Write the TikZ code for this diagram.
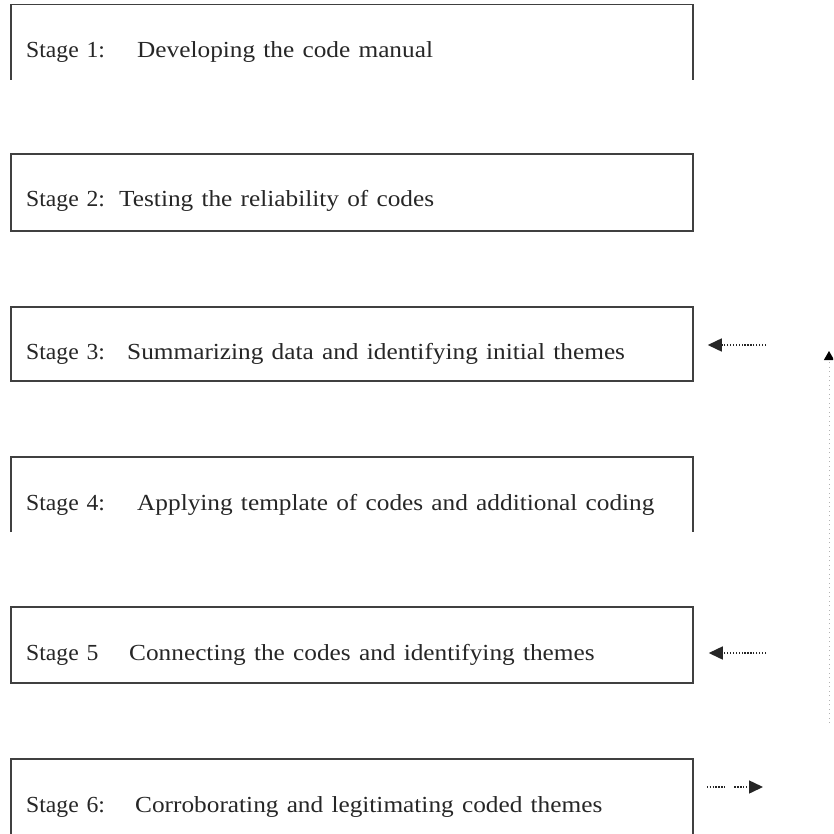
\documentclass[tikz,border=0pt]{standalone}
\usepackage{fontspec}
\setmainfont{Liberation Serif}[FakeStretch=1.1,WordSpace=1.3]
\newfontfamily\stagelabelfont{Liberation Serif}[FakeStretch=1.03,WordSpace=1.3]
\usepackage{xcolor}
\usepackage{tikz}
\usetikzlibrary{shapes,arrows,arrows.meta,positioning,calc}

\tikzset{
  boxline/.style={draw=black!75,line width=1.5pt},
  stagebox/.style={rectangle,boxline,minimum width=682pt,minimum height=76pt,inner sep=0pt},
  openbox/.style={rectangle,minimum width=682pt,minimum height=75pt,inner sep=0pt},
  stagetxt/.style={anchor=base west,inner sep=0pt,font=\fontsize{23}{27}\selectfont,text=black!85},
  stagelbl/.style={stagetxt,font=\stagelabelfont\fontsize{23}{27}\selectfont},
  fb/.style={-{Triangle[length=14pt,width=13pt]},line width=1.5pt,black!85,dash pattern=on 1.3pt off 1.6pt},
  vline/.style={-{Triangle[length=9pt,width=10pt,color=black]},line width=1pt,black!30,dash pattern=on 1pt off 3.5pt},
}

\begin{document}
\begin{tikzpicture}[x=1pt,y=-1pt]
    \useasboundingbox (0,0) rectangle (833,834);
    \clip (0,0) rectangle (833,834);

    % boxes
    \node[openbox] (b1) at (352,42) {};
    \node[stagebox,minimum height=77pt] (b2) at (352,192.5) {};
    \node[stagebox,minimum height=74pt] (b3) at (352,344) {};
    \node[openbox] (b4) at (352,494.5) {};
    \node[stagebox] (b5) at (352,645) {};
    \node[stagebox] (b6) at (352,797) {};
    \draw[boxline] (b1.south west) -- (b1.north west) -- (b1.north east) -- (b1.south east);
    \draw[boxline] (b4.south west) -- (b4.north west) -- (b4.north east) -- (b4.south east);

    % texts
    \node[stagelbl] (l1) at (26,58) {Stage 1:};
    \node[stagetxt] (d1) at (137,58) {Developing the code manual};
    \node[stagelbl] (l2) at (26,207) {Stage 2:};
    \node[stagetxt] (d2) at (119,207) {Testing the reliability of codes};
    \node[stagelbl] (l3) at (26,359) {Stage 3:};
    \node[stagetxt] (d3) at (127,359) {Summarizing data and identifying initial themes};
    \node[stagelbl] (l4) at (26,510) {Stage 4:};
    \node[stagetxt] (d4) at (137,510) {Applying template of codes and additional coding};
    \node[stagelbl] (l5) at (26,660) {Stage 5};
    \node[stagetxt] (d5) at (129,660) {Connecting the codes and identifying themes};
    \node[stagelbl] (l6) at (26,812) {Stage 6:};
    \node[stagetxt] (d6) at (135,812) {Corroborating and legitimating coded themes};

    % arrows
    \coordinate (t3) at (766,345);
    \coordinate (t5) at (766,653);
    \coordinate (t6) at (763,787);
    \coordinate (vtop) at (829,351);
    \coordinate (vbot) at (829,723);
    \draw[fb,shorten >=14pt] (t3) -- (t3 -| b3.east);
    \draw[fb,shorten >=15pt] (t5) -- (t5 -| b5.east);
    \draw[fb,shorten <=13pt,dash pattern={on 1.3pt off 1.6pt on 1.3pt off 1.6pt on 1.3pt off 1.6pt on 1.3pt off 1.6pt on 1.3pt off 1.6pt on 1.3pt off 1.6pt on 1.3pt off 9pt on 1.3pt off 1.6pt on 1.3pt off 1.6pt on 1.3pt off 1.6pt on 1.3pt off 1.6pt on 1.3pt off 1.6pt on 1.3pt off 1.6pt}] (t6 -| b6.east) -- (t6);
    \draw[vline] (vbot) -- (vtop);
\end{tikzpicture}
\end{document}
